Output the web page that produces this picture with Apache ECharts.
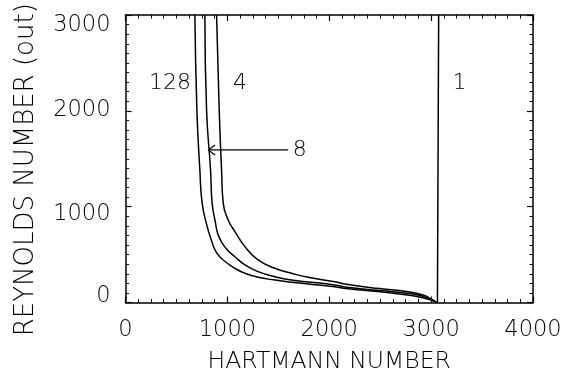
<!DOCTYPE html>
<html><head><meta charset="utf-8">
<script src="https://cdn.jsdelivr.net/npm/echarts@6/dist/echarts.min.js"></script>
<style>html,body{margin:0;padding:0;background:#fff}#c{width:565px;height:379px}</style>
</head><body><div id="c"></div>
<script>
// Hartmann number (x) and Reynolds number (y) for each curve
const ha128 = [681,701,730,752,800,840,894,975,1074,1172,1302,1466,1629,2054,2169,2495,2822,3000,3050];
const re128 = [3000,2000,1380,1040,800,660,520,430,357,305,263,235,211,165,145,112,70,25,0];
const ha8 = [779,796,835,850,880,915,990,1074,1172,1302,1466,1629,2054,2169,2495,2822,3000,3050];
const re8 = [3000,2000,1380,1040,850,690,560,478,392,322,269,235,183,160,125,88,32,0];
const ha4 = [894,920,943,959,1008,1074,1172,1302,1466,1629,1792,2054,2169,2495,2757,2920,3020,3055];
const re4 = [3000,2000,1380,1040,860,740,583,444,357,305,263,217,190,145,115,78,25,0];
const ha1 = [3062,3074];
const re1 = [0,3000];
// arrow pointing at curve "8"
const arrowShaftHa = [1596,812];
const arrowShaftRe = [1592,1592];
const arrowHeadHa = [880,812,880];
const arrowHeadRe = [1644,1592,1540];
// curve labels
const labelText = ['128','4','1','8'];
const labelHa = [436,1123,3279,1710];
const labelRe = [2292,2292,2292,1592];
const xTickLabels = [0,1000,2000,3000,4000];
const yTickLabels = [0,1000,2000,3000];

const zip = (a,b) => a.map((v,i)=>[v,b[i]]);
const FONT = 'DejaVu Sans';
const W = 200;
const lineSeries = (xs, ys) => ({
  type:'line', data: zip(xs,ys), showSymbol:false, symbol:'none',
  smooth:0.5,
  lineStyle:{color:'#000', width:1.5}, animation:false, silent:true
});
const axisBase = {
  axisLine:{show:true, onZero:false, lineStyle:{color:'#000', width:1.5}},
  axisTick:{show:true, inside:true, length:6, lineStyle:{color:'#000', width:1.2}},
  splitLine:{show:false}
};
const yLabelStyle = {
  p0:{padding:[0,0,13,0]},
  p1:{padding:[15,0,0,0]},
  p2:{padding:[0,0,2,0]},
  p3:{padding:[21,0,0,0]}
};
const chart = echarts.init(document.getElementById('c'), null, {renderer:'canvas'});
chart.setOption({
  backgroundColor:'#fff',
  animation:false,
  grid:{left:125.5, right:32, top:15, bottom:76.5, containLabel:false},
  xAxis:[
    Object.assign({}, axisBase, {
      type:'value', min:0, max:4000, interval:1000, position:'bottom',
      minorTick:{show:true, splitNumber:8, length:3.5, lineStyle:{color:'#000', width:1}},
      axisLabel:{color:'#000', fontFamily:FONT, fontWeight:W, fontSize:22.5, margin:16,
        formatter:v => xTickLabels.includes(v) ? String(v) : ''},
      name:'HARTMANN NUMBER', nameLocation:'middle', nameGap:47,
      nameTextStyle:{color:'#000', fontFamily:FONT, fontWeight:W, fontSize:23.5}
    }),
    Object.assign({}, axisBase, {
      type:'value', min:0, max:4000, interval:1000, position:'top',
      minorTick:{show:true, splitNumber:8, length:3.5, lineStyle:{color:'#000', width:1}},
      axisLabel:{show:false}
    })
  ],
  yAxis:[
    Object.assign({}, axisBase, {
      type:'value', min:0, max:3000, interval:1000, position:'left',
      minorTick:{show:true, splitNumber:10, length:3.5, lineStyle:{color:'#000', width:1}},
      axisLabel:{color:'#000', fontFamily:FONT, fontWeight:W, fontSize:22.5, margin:15,
        formatter:v => {
          const i = yTickLabels.indexOf(v);
          return i < 0 ? '' : '{p' + i + '|' + v + '}';
        },
        rich:yLabelStyle},
      name:'REYNOLDS NUMBER (out)', nameLocation:'middle', nameGap:86, nameRotate:90,
      nameTextStyle:{color:'#000', fontFamily:FONT, fontWeight:W, fontSize:26, padding:[0,22,0,0]}
    }),
    Object.assign({}, axisBase, {
      type:'value', min:0, max:3000, interval:1000, position:'right',
      minorTick:{show:true, splitNumber:10, length:3.5, lineStyle:{color:'#000', width:1}},
      axisLabel:{show:false}
    })
  ],
  series:[
    lineSeries(ha128, re128),
    lineSeries(ha8, re8),
    lineSeries(ha4, re4),
    Object.assign(lineSeries(ha1, re1), {smooth:false}),
    Object.assign(lineSeries(arrowShaftHa, arrowShaftRe), {smooth:false, lineStyle:{color:'#000', width:1.2}}),
    Object.assign(lineSeries(arrowHeadHa, arrowHeadRe), {smooth:false, lineStyle:{color:'#000', width:1.2}}),
    {
      type:'scatter', symbolSize:0, silent:true, animation:false,
      itemStyle:{color:'#000', opacity:1},
      data: labelText.map((t,i)=>({value:[labelHa[i], labelRe[i]], name:t})),
      label:{show:true, position:'inside', formatter:p=>p.name, opacity:1,
        color:'#000', textBorderWidth:0, textBorderColor:'transparent',
        fontFamily:FONT, fontWeight:W, fontSize:22}
    }
  ]
});
</script>
</body></html>
